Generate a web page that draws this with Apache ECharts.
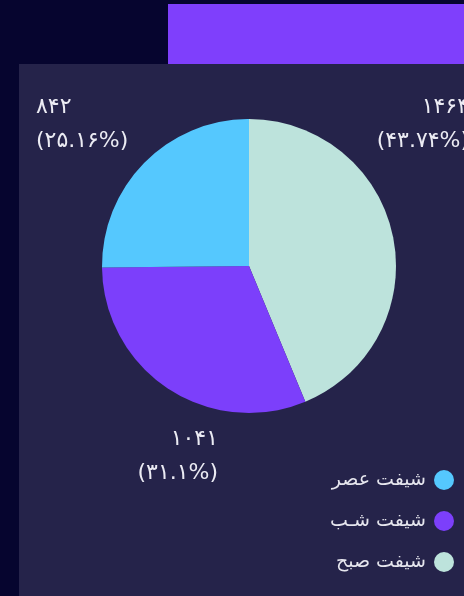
<!DOCTYPE html>
<html>
<head>
<meta charset="utf-8">
<script src="https://cdn.jsdelivr.net/npm/echarts@6/dist/echarts.min.js"></script>
<style>
  html, body { margin: 0; padding: 0; background: #06052f; }
  #chart { width: 464px; height: 596px; }
</style>
</head>
<body>
<div id="chart"></div>
<script>
// Shift names, counts and slice colours
const shiftNames = ['شیفت صبح', 'شیفت شـب', 'شیفت عصر'];
const shiftCounts = [1464, 1041, 842];
const shiftColors = ['#bde3dc', '#7c3ffb', '#55c8fe'];
const legendOrder = ['شیفت عصر', 'شیفت شـب', 'شیفت صبح'];

const faDigits = '۰۱۲۳۴۵۶۷۸۹';
function toFa(s) {
  return String(s).replace(/[0-9]/g, d => faDigits[+d]);
}

const total = shiftCounts.reduce((a, b) => a + b, 0);

const chart = echarts.init(document.getElementById('chart'), null, { renderer: 'canvas' });

// label anchor per slice (x, y, align)
const labelSpots = [
  { x: 469, y: 90, align: 'right' },
  { x: 218, y: 422, align: 'right' },
  { x: 36, y: 90, align: 'left' }
];

chart.setOption({
  backgroundColor: '#06052f',
  animation: false,
  graphic: [
    { type: 'rect', shape: { x: 168, y: 4, width: 300, height: 60 }, style: { fill: '#7f3ffc' }, z: 0 },
    { type: 'rect', shape: { x: 19, y: 64, width: 450, height: 540 }, style: { fill: '#25234a' }, z: 0 }
  ],
  legend: {
    orient: 'vertical',
    right: 5,
    top: 465,
    align: 'right',
    icon: 'circle',
    itemWidth: 20,
    itemHeight: 20,
    itemGap: 21,
    data: legendOrder,
    textStyle: {
      color: '#e6e6ee',
      fontSize: 19,
      fontFamily: 'DejaVu Sans, sans-serif',
      padding: [0, 3, 0, 0]
    }
  },
  series: [{
    type: 'pie',
    center: [249, 266],
    radius: 147,
    startAngle: 90,
    clockwise: true,
    avoidLabelOverlap: false,
    data: shiftNames.map((n, i) => ({
      name: n,
      value: shiftCounts[i],
      itemStyle: { color: shiftColors[i] }
    })),
    label: {
      show: true,
      position: 'outside',
      color: '#ebebf3',
      fontSize: 22,
      lineHeight: 34,
      fontFamily: 'DejaVu Sans, sans-serif',
      formatter: p => {
        const pct = Number((p.value / total * 100).toFixed(2));
        return toFa(p.value) + '\n(' + toFa(pct) + '%)';
      }
    },
    labelLine: { show: false },
    labelLayout: p => {
      const s = labelSpots[p.dataIndex];
      return { x: s.x, y: s.y, align: s.align, verticalAlign: 'top' };
    },
    emphasis: { disabled: true }
  }]
});
</script>
</body>
</html>
